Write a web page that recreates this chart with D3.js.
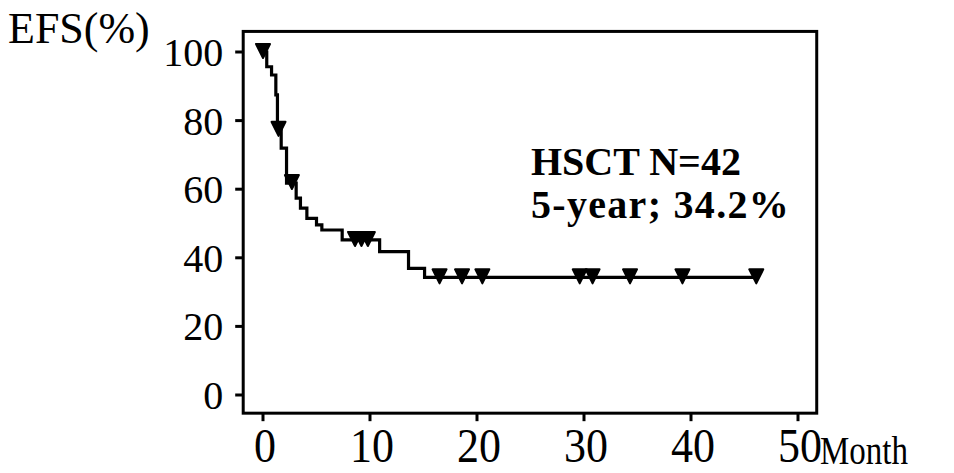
<!DOCTYPE html>
<html>
<head>
<meta charset="utf-8">
<script src="https://cdn.jsdelivr.net/npm/d3@7"></script>
<style>
  body { margin: 0; background: #fff; }
  text { font-family: "Liberation Serif", "Times New Roman", serif; fill: #000; }
</style>
</head>
<body>
<script>
// Kaplan-Meier EFS curve, HSCT group
var eventTimes  = [0.35, 0.8, 1.2, 1.35, 1.7, 2.2, 3.1, 3.5, 4.1, 5.0, 5.5, 7.4, 10.9, 13.6, 15.1];
var eventValues = [95.7, 93.3, 87.5, 77.3, 72.0, 61.8, 57.4, 54.5, 51.5, 49.6, 48.1, 45.2, 41.8, 36.9, 34.3];
var censorTimes = [0, 1.45, 2.7, 8.6, 9.2, 9.8, 16.5, 18.6, 20.5, 29.6, 30.8, 34.3, 39.2, 46.1];
var lastTime = 46.1;
var xTicks = [0, 10, 20, 30, 40, 50];
var yTicks = [0, 20, 40, 60, 80, 100];
var noteLines = ["HSCT N=42", "5-year; 34.2%"];

var width = 954, height = 473;
var svg = d3.select("body").append("svg")
  .attr("width", width)
  .attr("height", height);

var x = d3.scaleLinear().domain([0, 50]).range([263, 798]);
var y = d3.scaleLinear().domain([0, 100]).range([395, 52]);

// frame box, a bit wider than the axis range
var boxL = x(-1.85), boxR = x(51.75), boxT = y(106), boxB = y(-5.3);
svg.append("rect")
  .attr("x", boxL)
  .attr("y", boxT)
  .attr("width", boxR - boxL)
  .attr("height", boxB - boxT)
  .attr("fill", "none")
  .attr("stroke", "#000")
  .attr("stroke-width", 3);

// y ticks and labels
var yAxis = svg.append("g");
yAxis.selectAll("line").data(yTicks).join("line")
  .attr("x1", boxL - 8).attr("x2", boxL)
  .attr("y1", d => y(d)).attr("y2", d => y(d))
  .attr("stroke", "#000").attr("stroke-width", 3);
yAxis.selectAll("text").data(yTicks).join("text")
  .attr("x", boxL - 20)
  .attr("y", d => y(d))
  .attr("dy", "0.35em")
  .attr("text-anchor", "end")
  .style("font-size", "40px")
  .text(d => d);

// x ticks and labels (the original text is a little stretched vertically)
var xAxis = svg.append("g");
xAxis.selectAll("line").data(xTicks).join("line")
  .attr("x1", d => x(d)).attr("x2", d => x(d))
  .attr("y1", boxB).attr("y2", boxB + 8)
  .attr("stroke", "#000").attr("stroke-width", 3);
xAxis.selectAll("text").data(xTicks).join("text")
  .attr("transform", d => "translate(" + (x(d) + 2) + ",462) scale(1,1.1)")
  .attr("text-anchor", "middle")
  .style("font-size", "44px")
  .text(d => d);

svg.append("text")
  .attr("transform", "translate(820,464) scale(1,1.2)")
  .style("font-size", "33px").text("Month");
svg.append("text").attr("x", 8).attr("y", 43)
  .style("font-size", "44px").text("EFS(%)");

// step curve
var pts = [[0, 100]];
eventTimes.forEach((t, i) => pts.push([t, eventValues[i]]));
pts.push([lastTime, eventValues[eventValues.length - 1]]);

var line = d3.line()
  .x(d => x(d[0]))
  .y(d => y(d[1]))
  .curve(d3.curveStepAfter);

svg.append("path")
  .datum(pts)
  .attr("d", line)
  .attr("fill", "none")
  .attr("stroke", "#000")
  .attr("stroke-width", 3.2);

// survival level at time t
function survAt(t) {
  var s = 100;
  eventTimes.forEach((e, i) => { if (e <= t) s = eventValues[i]; });
  return s;
}

// censor marks: downward triangles
svg.append("g").selectAll("path")
  .data(censorTimes)
  .join("path")
  .attr("transform", d => "translate(" + x(d) + "," + y(survAt(d)) + ")")
  .attr("d", "M-7,-8L7,-8L0,6Z")
  .attr("fill", "#000")
  .attr("stroke", "#000")
  .attr("stroke-width", 2)
  .attr("stroke-linejoin", "round");

// annotation
svg.append("g").selectAll("text")
  .data(noteLines)
  .join("text")
  .attr("x", 531)
  .attr("y", (d, i) => 175 + i * 43)
  .style("font-size", "40px")
  .style("font-weight", "bold")
  .style("letter-spacing", (d, i) => i === 1 ? "1.3px" : "0px")
  .text(d => d);
</script>
</body>
</html>
